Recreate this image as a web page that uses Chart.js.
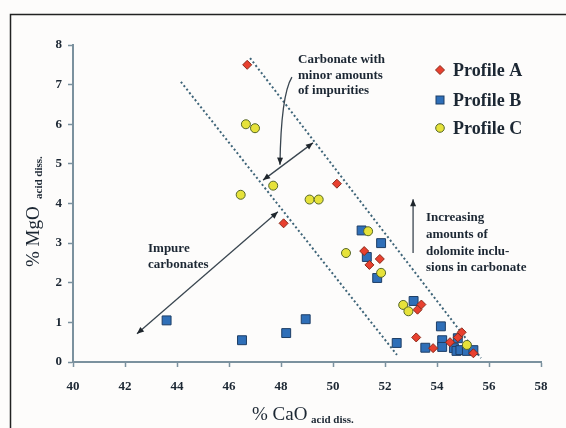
<!DOCTYPE html>
<html>
<head>
<meta charset="utf-8">
<script src="https://cdn.jsdelivr.net/npm/chart.js@4/dist/chart.umd.min.js"></script>
<style>
  html, body { margin: 0; padding: 0; background: #fdfcfb; }
  #wrap { position: relative; width: 566px; height: 428px; }
</style>
</head>
<body>
<div id="wrap"><canvas id="chart" width="566" height="428"></canvas></div>
<script>
// Profile data (% CaO vs % MgO, acid dissolved)
const profileA_CaO = [46.7, 50.15, 48.1, 51.2, 51.4, 51.8, 53.2, 53.25, 53.4, 53.85, 54.5, 54.8, 54.95, 55.4];
const profileA_MgO = [7.5, 4.5, 3.5, 2.8, 2.45, 2.6, 0.62, 1.32, 1.45, 0.35, 0.5, 0.62, 0.75, 0.22];

const profileB_CaO = [43.6, 46.5, 48.2, 48.95, 51.1, 51.3, 51.85, 51.7, 52.45, 53.1, 53.55, 54.15, 54.2, 54.2, 54.65, 54.8, 54.75, 54.9, 55.15, 55.4];
const profileB_MgO = [1.05, 0.55, 0.73, 1.08, 3.32, 2.65, 3.0, 2.12, 0.48, 1.54, 0.36, 0.9, 0.55, 0.38, 0.35, 0.6, 0.28, 0.3, 0.28, 0.3];

const profileC_CaO = [46.65, 47.0, 46.45, 47.7, 49.1, 49.45, 50.5, 51.35, 51.85, 52.7, 52.9, 55.15];
const profileC_MgO = [6.0, 5.9, 4.22, 4.45, 4.1, 4.1, 2.75, 3.3, 2.25, 1.44, 1.28, 0.43];

// Dotted boundary lines [CaO, MgO] end points
const boundaryLeft = [[44.15, 7.07], [52.46, 0.18]];
const boundaryRight = [[46.81, 7.67], [55.69, 0.10]];

// Arrows in data units: [x1, y1, x2, y2]
const arrowImpure = [42.46, 0.71, 47.88, 3.79];
const arrowMinor = [47.31, 4.59, 49.23, 5.53];
const arrowDolomite = [53.08, 2.75, 53.08, 4.11];
const curveMinor = [48.42, 7.19, 48.0, 6.74, 47.96, 4.98]; // start, control, end

const xTicks = [40, 42, 44, 46, 48, 50, 52, 54, 56, 58];
const yTicks = [0, 1, 2, 3, 4, 5, 6, 7, 8];

const toPts = (xs, ys) => xs.map((x, i) => ({ x: x, y: ys[i] }));
const toLine = arr => arr.map(p => ({ x: p[0], y: p[1] }));

const axisColor = '#7b919e';
const textColor = '#1c2733';
const lineColor = '#3e6478';
const serif = '"Liberation Serif", "DejaVu Serif", serif';

function head(ctx, x1, y1, x2, y2) {
  // filled triangle arrow head at (x2, y2)
  const a = Math.atan2(y2 - y1, x2 - x1);
  const len = 7, w = 3;
  ctx.beginPath();
  ctx.moveTo(x2, y2);
  ctx.lineTo(x2 - len * Math.cos(a) + w * Math.sin(a), y2 - len * Math.sin(a) - w * Math.cos(a));
  ctx.lineTo(x2 - len * Math.cos(a) - w * Math.sin(a), y2 - len * Math.sin(a) + w * Math.cos(a));
  ctx.closePath();
  ctx.fill();
}

const annotations = {
  id: 'annotations',
  afterDatasetsDraw(chart) {
    const ctx = chart.ctx;
    const xs = chart.scales.x, ys = chart.scales.y;
    const px = v => xs.getPixelForValue(v), py = v => ys.getPixelForValue(v);
    ctx.save();
    ctx.strokeStyle = '#3a4650';
    ctx.fillStyle = '#1f262c';
    ctx.lineWidth = 1.3;

    // straight arrows
    [[arrowImpure, true], [arrowMinor, true], [arrowDolomite, false]].forEach(([a, dbl]) => {
      const x1 = px(a[0]), y1 = py(a[1]), x2 = px(a[2]), y2 = py(a[3]);
      ctx.beginPath();
      ctx.moveTo(x1, y1);
      ctx.lineTo(x2, y2);
      ctx.stroke();
      head(ctx, x1, y1, x2, y2);
      if (dbl) head(ctx, x2, y2, x1, y1);
    });

    // curved arrow from label
    const c = curveMinor;
    ctx.beginPath();
    ctx.moveTo(px(c[0]), py(c[1]));
    ctx.quadraticCurveTo(px(c[2]), py(c[3]), px(c[4]), py(c[5]));
    ctx.stroke();
    head(ctx, px(c[2]), py(c[3]), px(c[4]), py(c[5]));

    // text notes
    ctx.fillStyle = textColor;
    ctx.font = 'bold 13px ' + serif;
    ctx.textBaseline = 'middle';
    ctx.textAlign = 'left';
    const note = (lines, x, y, lh) => lines.forEach((t, i) => ctx.fillText(t, x, y + i * lh));
    note(['Carbonate with', 'minor amounts', 'of impurities'], 298, 60, 15.5);
    note(['Impure', 'carbonates'], 148, 249, 16);
    note(['Increasing', 'amounts of', 'dolomite inclu-', 'sions in carbonate'], 426, 218, 16.7);

    // legend
    const lx = 440, ly = [70, 100, 128];
    ctx.lineWidth = 1;
    // diamond
    ctx.fillStyle = '#e8402f'; ctx.strokeStyle = '#8a2a1a';
    ctx.beginPath();
    ctx.moveTo(lx, ly[0] - 4.5); ctx.lineTo(lx + 4.5, ly[0]); ctx.lineTo(lx, ly[0] + 4.5); ctx.lineTo(lx - 4.5, ly[0]);
    ctx.closePath(); ctx.fill(); ctx.stroke();
    // square
    ctx.fillStyle = '#2f6fb8'; ctx.strokeStyle = '#1e3e66';
    ctx.fillRect(lx - 4, ly[1] - 4, 8, 8); ctx.strokeRect(lx - 4, ly[1] - 4, 8, 8);
    // circle
    ctx.fillStyle = '#e6e23a'; ctx.strokeStyle = '#55662a';
    ctx.beginPath(); ctx.arc(lx, ly[2], 4.3, 0, Math.PI * 2); ctx.fill(); ctx.stroke();
    ctx.fillStyle = textColor;
    ctx.font = 'bold 18px ' + serif;
    ['Profile A', 'Profile B', 'Profile C'].forEach((t, i) => ctx.fillText(t, 453, ly[i] + 1));

    // axis titles with subscripts
    ctx.textBaseline = 'alphabetic';
    ctx.font = '19px ' + serif;
    ctx.fillText('% CaO', 252, 420);
    ctx.font = 'bold 11px ' + serif;
    ctx.fillText('acid diss.', 311, 423);

    ctx.translate(39, 267);
    ctx.rotate(-Math.PI / 2);
    ctx.font = '19px ' + serif;
    ctx.fillText('% MgO', 0, 0);
    ctx.font = 'bold 11px ' + serif;
    ctx.fillText('acid diss.', 68, 3);
    ctx.restore();

    // frame
    ctx.save();
    ctx.strokeStyle = '#222';
    ctx.lineWidth = 1.5;
    ctx.strokeRect(10.5, 14.5, 600, 500);
    ctx.restore();
  }
};

new Chart(document.getElementById('chart'), {
  type: 'scatter',
  data: {
    datasets: [
      {
        label: 'Profile C', data: toPts(profileC_CaO, profileC_MgO), order: 1,
        pointStyle: 'circle', pointRadius: 4.5, backgroundColor: '#e6e23a', borderColor: '#55662a', borderWidth: 1
      },
      {
        label: 'Profile A', data: toPts(profileA_CaO, profileA_MgO), order: 2,
        pointStyle: 'rectRot', pointRadius: 4.5, backgroundColor: '#e8402f', borderColor: '#8a2a1a', borderWidth: 1
      },
      {
        label: 'Profile B', data: toPts(profileB_CaO, profileB_MgO), order: 3,
        pointStyle: 'rect', pointRadius: 6.3, backgroundColor: '#2f6fb8', borderColor: '#1e3e66', borderWidth: 1
      },
      {
        label: 'left', data: toLine(boundaryLeft), order: 4, type: 'line', showLine: true,
        pointRadius: 0, borderColor: lineColor, borderWidth: 2, borderDash: [2, 2.5], fill: false
      },
      {
        label: 'right', data: toLine(boundaryRight), order: 5, type: 'line', showLine: true,
        pointRadius: 0, borderColor: lineColor, borderWidth: 2, borderDash: [2, 2.5], fill: false
      }
    ]
  },
  options: {
    responsive: false,
    animation: false,
    layout: { padding: { left: 0, top: 45, right: 25, bottom: 0 } },
    plugins: { legend: { display: false }, tooltip: { enabled: false } },
    scales: {
      x: {
        type: 'linear', min: 40, max: 58,
        afterBuildTicks: s => { s.ticks = xTicks.map(v => ({ value: v })); },
        afterFit: s => { s.height = 428 - 362; },
        grid: { drawOnChartArea: false, color: axisColor, tickLength: 5, tickWidth: 1.5 },
        border: { color: axisColor, width: 2 },
        ticks: { color: textColor, padding: 12, font: { family: serif, size: 13, weight: 'bold' } }
      },
      y: {
        type: 'linear', min: 0, max: 8,
        afterBuildTicks: s => { s.ticks = yTicks.map(v => ({ value: v })); },
        afterFit: s => { s.width = 73; },
        grid: { drawOnChartArea: false, color: axisColor, tickLength: 5, tickWidth: 1.5 },
        border: { color: axisColor, width: 2 },
        ticks: { color: textColor, padding: 6, font: { family: serif, size: 13, weight: 'bold' } }
      }
    }
  },
  plugins: [annotations]
});
</script>
</body>
</html>
